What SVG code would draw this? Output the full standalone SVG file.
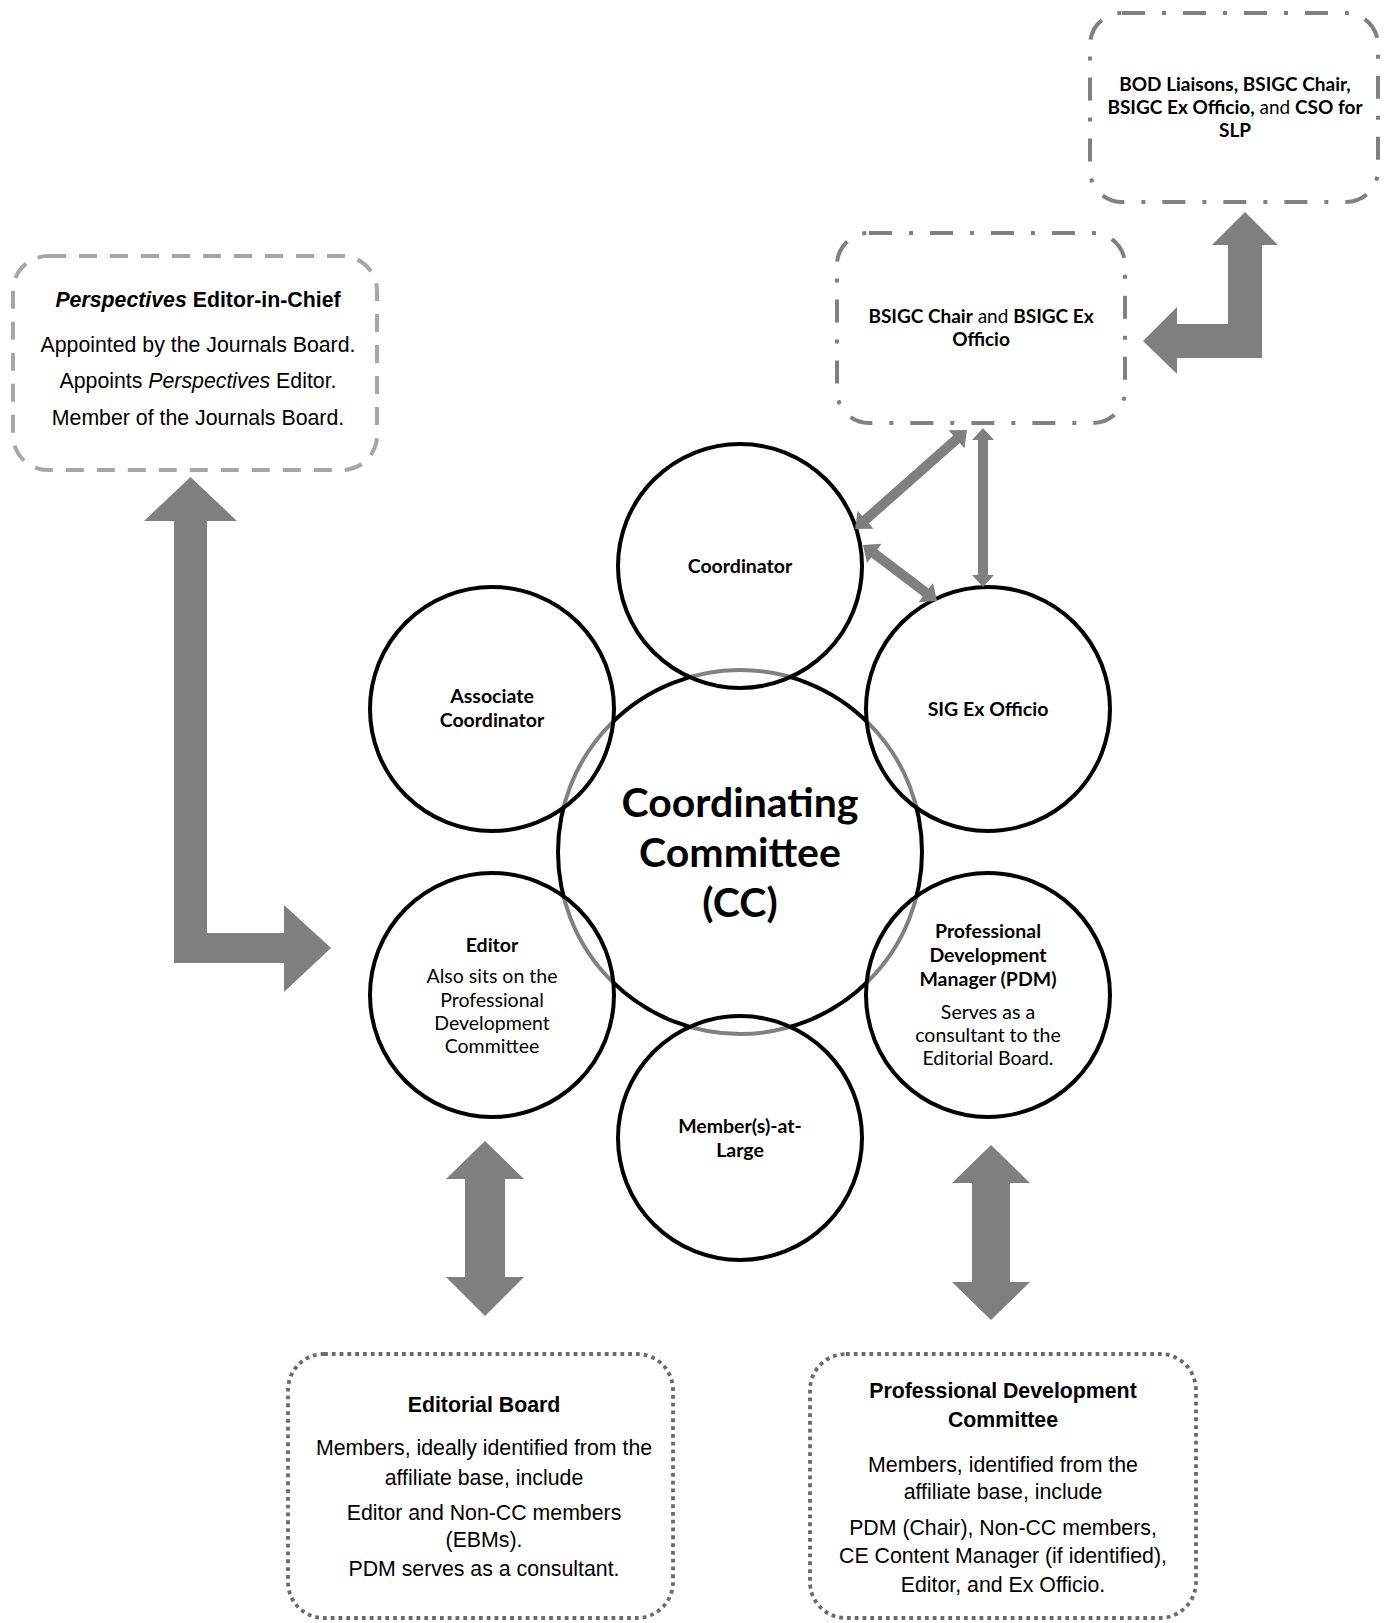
<svg xmlns="http://www.w3.org/2000/svg" width="1388" height="1623" viewBox="0 0 1388 1623">
<style>
.c { font-family: Lato, 'Liberation Sans', sans-serif; font-size: 19.5px; fill: #000; text-anchor: middle; }
.bx { font-size: 19px; }
.cc { font-family: Lato, 'Liberation Sans', sans-serif; font-size: 41px; font-weight: bold; fill: #000; text-anchor: middle; }
.b { font-weight: bold; }
.n { font-weight: normal; }
.i { font-style: italic; }
.a { font-family: 'Liberation Sans', Arial, sans-serif; font-size: 21.3px; fill: #000; text-anchor: middle; }
.ring { fill: #fff; fill-opacity: 0.5; stroke: #000; stroke-width: 4; }
.core { fill: #fff; stroke: #000; stroke-width: 4; }
.dd { fill: #fff; stroke: #808080; stroke-width: 4; stroke-dasharray: 23 17 4 17; }
.ds { fill: #fff; stroke: #a6a6a6; stroke-width: 4; stroke-dasharray: 18 13; }
.dt { fill: #fff; stroke: #6a6a6a; stroke-width: 3.8; stroke-dasharray: 3.8 4; }
.arr { fill: #7f7f7f; }
</style>
<rect x="0" y="0" width="1388" height="1623" fill="#fff"/>

<g id="bod-box">
  <rect class="dd" x="1090" y="13" width="288" height="189" rx="32"/>
  <text class="c bx b" x="1235" y="91">BOD Liaisons, BSIGC Chair,</text>
  <text class="c bx b" x="1235" y="114">BSIGC Ex Officio,<tspan class="n"> and </tspan>CSO for</text>
  <text class="c bx b" x="1235" y="137">SLP</text>
</g>

<g id="bsigc-box">
  <rect class="dd" x="837" y="233" width="288" height="190" rx="32"/>
  <text class="c bx b" x="981" y="323">BSIGC Chair<tspan class="n"> and </tspan>BSIGC Ex</text>
  <text class="c bx b" x="981" y="346">Officio</text>
</g>

<g id="perspectives-box">
  <rect class="ds" x="13" y="256" width="364" height="214" rx="35"/>
  <text class="a b" x="198" y="307"><tspan class="i">Perspectives</tspan> Editor-in-Chief</text>
  <text class="a" x="198" y="352">Appointed by the Journals Board.</text>
  <text class="a" x="198" y="388">Appoints <tspan class="i">Perspectives</tspan> Editor.</text>
  <text class="a" x="198" y="425">Member of the Journals Board.</text>
</g>

<g id="cc">
  <circle class="core" cx="740" cy="852" r="182"/>
  <text class="cc" x="740" y="817">Coordinating</text>
  <text class="cc" x="740" y="867">Committee</text>
  <text class="cc" x="740" y="917">(CC)</text>
</g>

<g id="coordinator">
  <circle class="ring" cx="740" cy="566" r="122"/>
  <text class="c b" x="740" y="573">Coordinator</text>
</g>

<g id="sig-ex-officio">
  <circle class="ring" cx="988" cy="709" r="122"/>
  <text class="c b" x="988" y="716">SIG Ex Officio</text>
</g>

<g id="pdm">
  <circle class="ring" cx="988" cy="995" r="122"/>
  <text class="c b" x="988" y="938">Professional</text>
  <text class="c b" x="988" y="962">Development</text>
  <text class="c b" x="988" y="986">Manager (PDM)</text>
  <text class="c" x="988" y="1019">Serves as a</text>
  <text class="c" x="988" y="1042">consultant to the</text>
  <text class="c" x="988" y="1065">Editorial Board.</text>
</g>

<g id="members-at-large">
  <circle class="ring" cx="740" cy="1138" r="122"/>
  <text class="c b" x="740" y="1133">Member(s)-at-</text>
  <text class="c b" x="740" y="1157">Large</text>
</g>

<g id="editor">
  <circle class="ring" cx="492" cy="995" r="122"/>
  <text class="c b" x="492" y="952">Editor</text>
  <text class="c" x="492" y="983">Also sits on the</text>
  <text class="c" x="492" y="1007">Professional</text>
  <text class="c" x="492" y="1030">Development</text>
  <text class="c" x="492" y="1053">Committee</text>
</g>

<g id="associate-coordinator">
  <circle class="ring" cx="492" cy="709" r="122"/>
  <text class="c b" x="492" y="703">Associate</text>
  <text class="c b" x="492" y="727">Coordinator</text>
</g>

<g id="editorial-board">
  <rect class="dt" x="288" y="1354" width="385" height="264" rx="36"/>
  <text class="a b" x="484" y="1412">Editorial Board</text>
  <text class="a" x="484" y="1455">Members, ideally identified from the</text>
  <text class="a" x="484" y="1485">affiliate base, include</text>
  <text class="a" x="484" y="1520">Editor and Non-CC members</text>
  <text class="a" x="484" y="1547">(EBMs).</text>
  <text class="a" x="484" y="1576">PDM serves as a consultant.</text>
</g>

<g id="pd-committee">
  <rect class="dt" x="810" y="1354" width="386" height="264" rx="36"/>
  <text class="a b" x="1003" y="1398">Professional Development</text>
  <text class="a b" x="1003" y="1427">Committee</text>
  <text class="a" x="1003" y="1472">Members, identified from the</text>
  <text class="a" x="1003" y="1499">affiliate base, include</text>
  <text class="a" x="1003" y="1535">PDM (Chair), Non-CC members,</text>
  <text class="a" x="1003" y="1563">CE Content Manager (if identified),</text>
  <text class="a" x="1003" y="1592">Editor, and Ex Officio.</text>
</g>

<g id="connectors">
  <polygon class="arr" points="190.5,477 237,521 207,521 207,933 284,933 284,905 331,948 284,992 284,963 174,963 174,521 144,521"/>
  <polygon class="arr" points="1245,212 1278,245 1262,245 1262,358 1177,358 1177,374 1143,341 1177,307 1177,324 1228,324 1228,245 1212,245"/>
  <polygon class="arr" points="983,428 994,440 988,440 988,575 994,575 983,587 972,575 978,575 978,440 972,440"/>
  <polygon class="arr" points="967,430 964.4,448.3 959.8,443 868.8,523.5 873.4,528.7 855,529 857.6,510.7 862.2,516 953.2,435.6 948.6,430.3"/>
  <polygon class="arr" points="863,545 867,563 871.2,557.4 922.8,596.6 918.6,602.2 937,601 933,583 928.8,588.6 877.2,549.4 881.4,543.8"/>
  <polygon class="arr" points="485,1141 524,1179 505,1179 505,1277 524,1277 485,1316 446,1277 465,1277 465,1179 446,1179"/>
  <polygon class="arr" points="991,1145 1030,1183 1010,1183 1010,1282 1030,1282 991,1320 952,1282 972,1282 972,1183 952,1183"/>
</g>
</svg>
